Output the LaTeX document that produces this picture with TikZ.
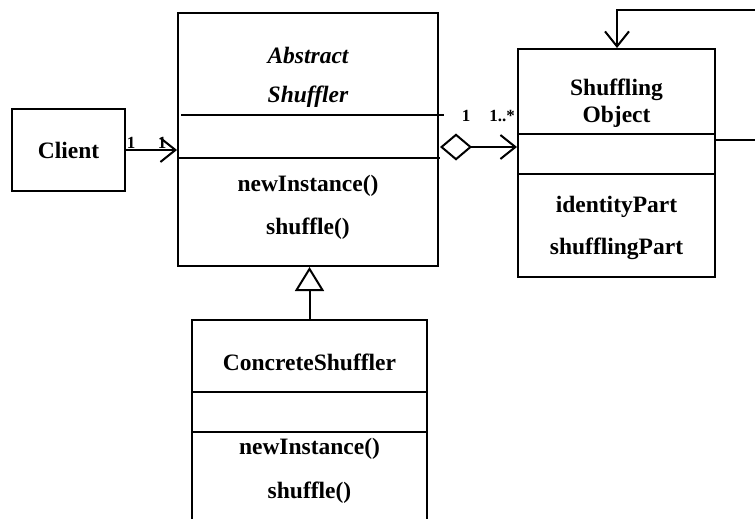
\documentclass[tikz,border=0pt]{standalone}
\usepackage{fontspec}
\setmainfont{Liberation Serif}
\usetikzlibrary{arrows.meta}

\tikzset{
  classbox/.style={draw, line width=2pt, rectangle, inner sep=0pt},
  label text/.style={font=\fontsize{23.5}{28}\selectfont\bfseries},
  mult/.style={font=\fontsize{17}{19}\selectfont\bfseries, inner sep=0pt},
  conn/.style={line width=2pt},
  barb/.tip={Straight Barb[length=15pt, width=24pt, line width=2pt]},
  diam/.tip={Diamond[open, length=32pt, width=27pt, line width=2pt]},
  inherit/.tip={Triangle[open, length=24pt, width=29pt, line width=2pt]},
}

\begin{document}
\begin{tikzpicture}[x=1pt, y=-1pt]
    \useasboundingbox (0,0) rectangle (755,519);
    \clip (0,0) rectangle (755,519);

    %% the client
    \node[classbox, label text, minimum width=113pt, minimum height=82pt] (client) at (68.5,150) {Client};

    %% the abstract shuffler
    \node[classbox, minimum width=260pt, minimum height=253pt] (abs) at (308,139.5) {};
    \node[label text] (absname1) at (308,55) {\itshape Abstract};
    \node[label text] (absname2) at (308,97) {\itshape Shuffler};
    \draw[conn] (181,115) -- (444,115);
    \draw[conn] (abs.west |- 0,158) -- (440,158);
    \node[label text] (absop1) at (308,186) {newInstance()};
    \node[label text] (absop2) at (308,229) {shuffle()};

    %% the shuffling object
    \node[classbox, minimum width=197pt, minimum height=228pt] (so) at (616.5,163) {};
    \node[label text, align=center] (soname) at (616.5,103.5) {Shuffling\\[-1pt]Object};
    \draw[conn] (so.west |- 0,134) -- (so.east |- 0,134);
    \draw[conn] (so.west |- 0,174) -- (so.east |- 0,174);
    \node[label text] (soattr1) at (616.5,207) {identityPart};
    \node[label text] (soattr2) at (616.5,249) {shufflingPart};

    %% the concrete shuffler
    \node[classbox, minimum width=235pt, minimum height=220pt] (conc) at (309.5,430) {};
    \node[label text] (concname) at (309.5,362) {ConcreteShuffler};
    \draw[conn] (conc.west |- 0,392) -- (conc.east |- 0,392);
    \draw[conn] (conc.west |- 0,432) -- (conc.east |- 0,432);
    \node[label text] (concop1) at (309.5,449) {newInstance()};
    \node[label text] (concop2) at (309.5,493) {shuffle()};

    %% association client -> abstract
    \coordinate (assocend) at (abs.west |- client.east);
    \draw[conn, -barb] (client.east) -- (assocend);
    \node[mult] (m1) at (131,143) {1};
    \node[mult] (m2) at (162,143) {1};

    %% aggregation abstract -> shuffling object
    \coordinate (aggstart) at (440,147);
    \coordinate (aggend) at (so.west |- aggstart);
    \draw[conn, diam-barb] (aggstart) -- (aggend);
    \node[mult] (m3) at (466,116) {1};
    \node[mult] (m4) at (502,116) {1..*};

    %% self loop on the shuffling object
    \coordinate (loopout) at (so.east |- 0,140);
    \coordinate (loopa) at (770,140);
    \coordinate (loopb) at (770,10);
    \coordinate (loopc) at (617,10);
    \draw[conn, -barb] (loopout) -- (loopa) -- (loopb) -- (loopc) -- (so.north -| loopc);

    %% inheritance
    \draw[conn, -inherit] (conc.north) -- (abs.south -| conc.north);
\end{tikzpicture}
\end{document}
